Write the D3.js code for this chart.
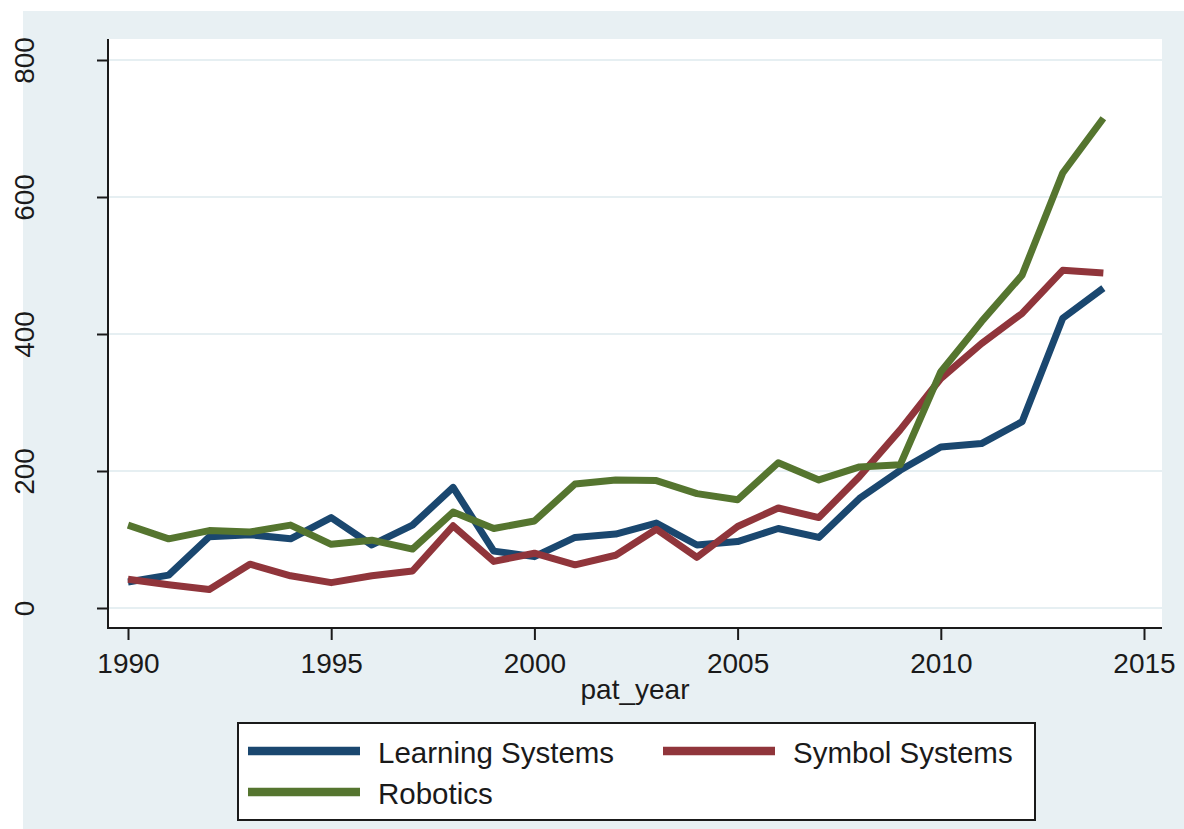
<!DOCTYPE html>
<html>
<head>
<meta charset="utf-8">
<script src="https://cdn.jsdelivr.net/npm/d3@7"></script>
<style>
  body { margin: 0; background: #fff; }
  svg { display: block; font-family: "Liberation Sans", Arial, sans-serif; }
</style>
</head>
<body>
<div id="chart"></div>
<script>
// values (patents per year)
const years = [1990, 1991, 1992, 1993, 1994, 1995, 1996, 1997, 1998, 1999, 2000, 2001, 2002,
               2003, 2004, 2005, 2006, 2007, 2008, 2009, 2010, 2011, 2012, 2013, 2014];
const learning = [38, 48, 104, 107, 101, 132, 92, 121, 176, 83, 75, 103, 108,
                  124, 92, 97, 116, 103, 160, 201, 235, 240, 272, 423, 467];
const symbolSys = [42, 34, 27, 64, 47, 37, 47, 54, 120, 68, 80, 63, 77,
                   115, 74, 119, 146, 132, 192, 260, 335, 386, 430, 493, 489];
const robotics = [121, 101, 113, 111, 121, 93, 99, 86, 140, 116, 127, 181, 187,
                  186, 167, 158, 212, 187, 206, 209, 345, 418, 486, 635, 715];
const seriesNames = ["Learning Systems", "Symbol Systems", "Robotics"];
const seriesColors = ["#1a476f", "#90353b", "#55752f"];
const xTicks = [1990, 1995, 2000, 2005, 2010, 2015];
const yTicks = [0, 200, 400, 600, 800];

const W = 1184, H = 829;
// plot region box
const plot = { left: 108, right: 1162, top: 39, bottom: 628 };

const svg = d3.select("#chart").append("svg")
    .attr("width", W)
    .attr("height", H);

// outer graph region
svg.append("rect")
    .attr("x", 23).attr("y", 11)
    .attr("width", W - 23).attr("height", H - 11)
    .attr("fill", "#e8f0f3");

svg.append("rect")
    .attr("x", plot.left).attr("y", plot.top)
    .attr("width", plot.right - plot.left).attr("height", plot.bottom - plot.top)
    .attr("fill", "#fff");

const x = d3.scaleLinear().domain([1990, 2015]).range([128, 1144]);
const y = d3.scaleLinear().domain([0, 800]).range([608, 60]);

// grid lines
svg.append("g")
    .selectAll("line")
    .data(yTicks)
    .join("line")
    .attr("x1", plot.left).attr("x2", plot.right)
    .attr("y1", d => y(d)).attr("y2", d => y(d))
    .attr("stroke", "#e6eff2")
    .attr("stroke-width", 2);

// series lines
const line = d3.line()
    .x((d, i) => x(years[i]))
    .y(d => y(d));

const allSeries = [learning, symbolSys, robotics];
svg.append("g")
    .selectAll("path")
    .data(allSeries)
    .join("path")
    .attr("d", d => line(d))
    .attr("fill", "none")
    .attr("stroke", (d, i) => seriesColors[i])
    .attr("stroke-width", 7)
    .attr("stroke-linejoin", "round");

// y axis
const yAxis = svg.append("g")
    .attr("transform", `translate(${plot.left},0)`)
    .call(d3.axisLeft(y).tickValues(yTicks).tickSize(11).tickFormat(d3.format("d")));
yAxis.select(".domain").remove();
yAxis.selectAll(".tick line").attr("stroke", "#1a1a1a").attr("stroke-width", 2);
yAxis.selectAll(".tick text")
    .attr("x", null).attr("dy", null)
    .attr("transform", "translate(-74,0) rotate(-90)")
    .attr("text-anchor", "middle")
    .attr("font-size", 28)
    .attr("fill", "#1a1a1a");

// x axis
const xAxis = svg.append("g")
    .attr("transform", `translate(0,${plot.bottom})`)
    .call(d3.axisBottom(x).tickValues(xTicks).tickSize(12).tickFormat(d3.format("d")));
xAxis.select(".domain").remove();
xAxis.selectAll(".tick line").attr("stroke", "#1a1a1a").attr("stroke-width", 2);
xAxis.selectAll(".tick text")
    .attr("y", 45).attr("dy", null)
    .attr("font-size", 28)
    .attr("fill", "#1a1a1a");

// axis lines along plot region
svg.append("line")
    .attr("x1", plot.left).attr("x2", plot.left)
    .attr("y1", plot.top).attr("y2", plot.bottom + 1)
    .attr("stroke", "#1a1a1a").attr("stroke-width", 2);
svg.append("line")
    .attr("x1", plot.left - 1).attr("x2", plot.right)
    .attr("y1", plot.bottom).attr("y2", plot.bottom)
    .attr("stroke", "#1a1a1a").attr("stroke-width", 2);

// x title
svg.append("text")
    .attr("x", (plot.left + plot.right) / 2)
    .attr("y", 699)
    .attr("text-anchor", "middle")
    .attr("font-size", 28)
    .attr("fill", "#1a1a1a")
    .text("pat_year");

// legend
const legend = svg.append("g");
legend.append("rect")
    .attr("x", 238).attr("y", 723)
    .attr("width", 797).attr("height", 97)
    .attr("fill", "#fff")
    .attr("stroke", "#1a1a1a")
    .attr("stroke-width", 2);

const legendPos = [
    { x: 248, y: 751 },
    { x: 663, y: 751 },
    { x: 248, y: 792 }
];
const items = legend.selectAll("g.item")
    .data(seriesNames)
    .join("g")
    .attr("class", "item")
    .attr("transform", (d, i) => `translate(${legendPos[i].x},${legendPos[i].y})`);
items.append("line")
    .attr("x1", 0).attr("x2", 112)
    .attr("y1", 0).attr("y2", 0)
    .attr("stroke", (d, i) => seriesColors[i])
    .attr("stroke-width", 8.5);
items.append("text")
    .attr("x", 130)
    .attr("y", 12)
    .attr("font-size", 29.5)
    .attr("fill", "#1a1a1a")
    .text(d => d);
</script>
</body>
</html>
